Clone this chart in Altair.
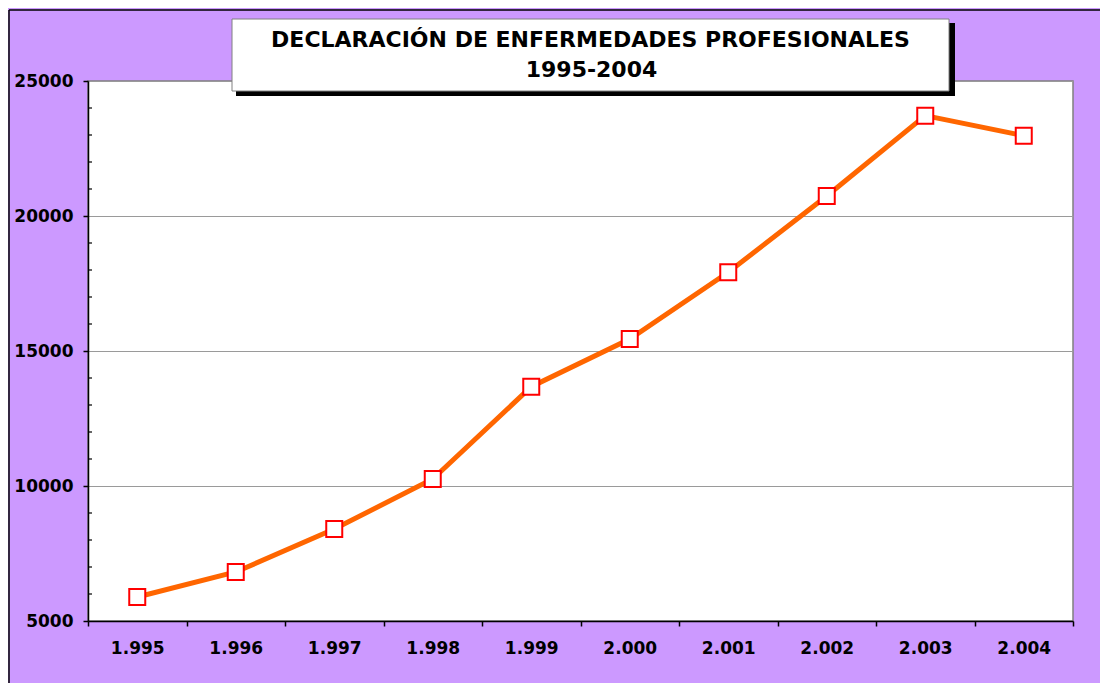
import altair as alt
import pandas as pd

# ---- data ----
years = ["1.995", "1.996", "1.997", "1.998", "1.999",
         "2.000", "2.001", "2.002", "2.003", "2.004"]
values = [5890, 6815, 8407, 10259, 13678, 15444, 17915, 20741, 23716, 22975]
y_major = [5000, 10000, 15000, 20000, 25000]
y_minor = [6000, 7000, 8000, 9000, 11000, 12000, 13000, 14000,
           16000, 17000, 18000, 19000, 21000, 22000, 23000, 24000]
title_lines = ["DECLARACIÓN DE ENFERMEDADES PROFESIONALES", "1995-2004"]

df = pd.DataFrame({"year": years, "value": values})
minor_df = pd.DataFrame({"value": y_minor})
one = pd.DataFrame({"k": [0]})

FONT = "DejaVu Sans"
ydom = alt.Scale(domain=[5000, 25000], nice=False, zero=False)

x_enc = alt.X(
    "year:N", sort=None, bandPosition=0.5,
    scale=alt.Scale(type="band", paddingInner=0, paddingOuter=0),
    axis=alt.Axis(title=None, labelAngle=0, tickBand="extent", grid=False,
                  domainColor="black", domainWidth=1.5, tickColor="black",
                  tickWidth=1.5, tickSize=5, labelFont=FONT,
                  labelFontWeight="bold", labelFontSize=17, labelColor="black",
                  labelPadding=14),
)
y_axis = alt.Axis(title=None, values=y_major, format="d", grid=True,
                  gridColor="#9a9a9a", gridWidth=1, domainColor="black",
                  domainWidth=1.5, tickColor="black", tickWidth=1.5, tickSize=5,
                  labelFont=FONT, labelFontWeight="bold", labelFontSize=17,
                  labelColor="black", labelPadding=10)
y_enc = alt.Y("value:Q", scale=ydom, axis=y_axis)

minor = alt.Chart(minor_df).mark_rule(color="black", strokeWidth=1.2).encode(
    y=y_enc, x=alt.value(0), x2=alt.value(4),
)
line = alt.Chart(df).mark_line(color="#FF6600", strokeWidth=5).encode(x=x_enc, y=y_enc)
points = alt.Chart(df).mark_point(
    shape="square", filled=True, fill="white", stroke="#FF0000",
    strokeWidth=2, size=256, opacity=1
).encode(x=x_enc, y=y_enc)

shadow = alt.Chart(one).mark_rect(fill="black").encode(
    x=alt.value(148), x2=alt.value(867), y=alt.value(-58), y2=alt.value(15)
)
box = alt.Chart(one).mark_rect(fill="white", stroke="#808080", strokeWidth=1).encode(
    x=alt.value(144), x2=alt.value(861), y=alt.value(-62), y2=alt.value(10)
)
t1 = alt.Chart(pd.DataFrame({"t": [title_lines[0]]})).mark_text(
    font=FONT, fontWeight="bold", fontSize=22, align="center",
    baseline="alphabetic", color="black"
).encode(x=alt.value(502.5), y=alt.value(-34), text="t:N")
t2 = alt.Chart(pd.DataFrame({"t": [title_lines[1]]})).mark_text(
    font=FONT, fontWeight="bold", fontSize=22, align="center",
    baseline="alphabetic", color="black"
).encode(x=alt.value(503.5), y=alt.value(-4), text="t:N")

border_left = alt.Chart(one).mark_rule(color="black", strokeWidth=1.5).encode(
    x=alt.value(-79), y=alt.value(-71), y2=alt.value(1500)
)
border_top = alt.Chart(one).mark_rule(color="black", strokeWidth=1.5).encode(
    x=alt.value(-79), x2=alt.value(2000), y=alt.value(-71)
)

chart = alt.layer(line, minor, points, shadow, box, t1, t2,
                  border_left, border_top).properties(
    width=985, height=540,
    autosize=alt.AutoSizeParams(type="none"),
    padding={"left": 80, "top": 73, "right": 27, "bottom": 62},
    background="#CC99FF",
).configure_view(
    fill="white", stroke="#808080", strokeWidth=1.5
)

chart.save("out.html", embed_options={"renderer": "svg", "actions": False})
